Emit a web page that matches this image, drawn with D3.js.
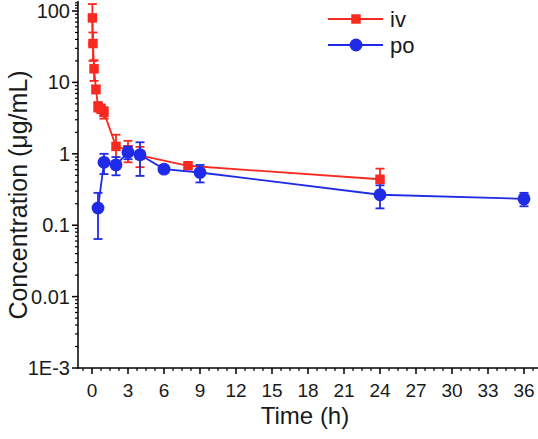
<!DOCTYPE html>
<html>
<head>
<meta charset="utf-8">
<script src="https://cdn.jsdelivr.net/npm/d3@7"></script>
<style>
  html, body { margin: 0; padding: 0; background: #fff; }
  svg { display: block; }
  text { font-family: Arial, "Liberation Sans", Helvetica, sans-serif; fill: #1a1a1a; }
</style>
</head>
<body>
<svg id="chart" width="538" height="439"></svg>
<script>
// ---- data ----
const ivTime  = [0.033, 0.083, 0.17, 0.33, 0.5, 0.75, 1, 2, 3, 4, 8, 24];
const ivConc  = [80, 35, 15.5, 8.0, 4.6, 4.3, 3.8, 1.27, 1.14, 0.95, 0.68, 0.44];
const ivSD    = [45, 15, 5, 1.0, 0.7, 0.6, 0.7, 0.58, 0.38, 0.30, 0.05, 0.18];

const poTime  = [0.5, 1, 2, 3, 4, 6, 9, 24, 36];
const poConc  = [0.174, 0.76, 0.70, 1.05, 0.97, 0.61, 0.547, 0.267, 0.234];
const poSD    = [0.11, 0.24, 0.20, 0.21, 0.48, 0.05, 0.15, 0.095, 0.05];

const xTickValues = [0, 3, 6, 9, 12, 15, 18, 21, 24, 27, 30, 33, 36];
const yTickValues = [0.001, 0.01, 0.1, 1, 10, 100];
const yTickLabels = ["1E-3", "0.01", "0.1", "1", "10", "100"];
const seriesNames = ["iv", "po"];

// ---- layout ----
const svg = d3.select("#chart");
const axisX0 = 78, axisY0 = 368;
const x = d3.scaleLinear().domain([0, 36]).range([92, 524]);
const y = d3.scaleLog().domain([0.001, 100]).range([368, 11]);
const RED = "#f82a20", BLUE = "#1f2be6";

// y axis
const yAxisG = svg.append("g");
yAxisG.append("line").attr("x1", axisX0).attr("x2", axisX0).attr("y1", 1).attr("y2", axisY0 + 0.5)
  .attr("stroke", "#000").attr("stroke-width", 1.5);
const minor = [];
for (let e = -3; e < 2; e++) for (let k = 2; k <= 9; k++) minor.push(k * Math.pow(10, e));
minor.push(110, 120, 130, 140);
yAxisG.selectAll("line.minor").data(minor.filter(v => y(v) > 1)).enter().append("line")
  .attr("x1", axisX0 - 3).attr("x2", axisX0).attr("y1", d => y(d)).attr("y2", d => y(d))
  .attr("stroke", "#000").attr("stroke-width", 1.2);
yAxisG.selectAll("line.major").data(yTickValues).enter().append("line")
  .attr("x1", axisX0 - 6).attr("x2", axisX0).attr("y1", d => y(d)).attr("y2", d => y(d))
  .attr("stroke", "#000").attr("stroke-width", 1.5);
yAxisG.selectAll("text").data(yTickValues).enter().append("text")
  .attr("x", axisX0 - 8).attr("y", d => y(d)).attr("dy", "0.35em")
  .attr("text-anchor", "end").attr("font-size", 20)
  .text((d, i) => yTickLabels[i]);

// x axis
const xAxisG = svg.append("g");
xAxisG.append("line").attr("x1", axisX0 - 0.75).attr("x2", 538).attr("y1", axisY0).attr("y2", axisY0)
  .attr("stroke", "#000").attr("stroke-width", 1.5);
const xMinor = d3.range(-0.75, 37.5, 0.75).filter(v => Math.abs(v / 3 - Math.round(v / 3)) > 1e-6);
xAxisG.selectAll("line.minor").data(xMinor.filter(v => x(v) > axisX0 + 2 && x(v) < 537)).enter().append("line")
  .attr("x1", d => x(d)).attr("x2", d => x(d)).attr("y1", axisY0).attr("y2", axisY0 + 3)
  .attr("stroke", "#000").attr("stroke-width", 1.2);
xAxisG.selectAll("line.major").data(xTickValues).enter().append("line")
  .attr("x1", d => x(d)).attr("x2", d => x(d)).attr("y1", axisY0).attr("y2", axisY0 + 6)
  .attr("stroke", "#000").attr("stroke-width", 1.5);
xAxisG.selectAll("text").data(xTickValues).enter().append("text")
  .attr("x", d => x(d)).attr("y", 397)
  .attr("text-anchor", "middle").attr("font-size", 19)
  .text(d => d);

// titles
svg.append("text").attr("x", 305).attr("y", 424).attr("text-anchor", "middle")
  .attr("font-size", 24).text("Time (h)");
svg.append("text").attr("transform", "translate(27,195) rotate(-90)").attr("text-anchor", "middle")
  .attr("font-size", 25).text("Concentration (\u03BCg/mL)");

// series
function drawSeries(times, conc, sd, color, shape, size) {
  const g = svg.append("g");
  const pts = times.map((t, i) => ({ t, c: conc[i], s: sd[i] }));
  g.append("path").datum(pts)
    .attr("d", d3.line().x(d => x(d.t)).y(d => y(d.c)))
    .attr("fill", "none").attr("stroke", color).attr("stroke-width", 1.8);
  const lo = d => y(Math.max(d.c - d.s, 0.0011));
  const hi = d => y(d.c + d.s);
  const eb = g.selectAll("g.eb").data(pts).enter().append("g");
  eb.append("line").attr("x1", d => x(d.t)).attr("x2", d => x(d.t))
    .attr("y1", hi).attr("y2", lo)
    .attr("stroke", color).attr("stroke-width", 1.8);
  eb.append("line").attr("x1", d => x(d.t) - 4.5).attr("x2", d => x(d.t) + 4.5)
    .attr("y1", hi).attr("y2", hi)
    .attr("stroke", color).attr("stroke-width", 1.8);
  eb.append("line").attr("x1", d => x(d.t) - 4.5).attr("x2", d => x(d.t) + 4.5)
    .attr("y1", lo).attr("y2", lo)
    .attr("stroke", color).attr("stroke-width", 1.8);
  const sym = d3.symbol().type(shape).size(size);
  g.selectAll("path.m").data(pts).enter().append("path")
    .attr("transform", d => `translate(${x(d.t)},${y(d.c)})`)
    .attr("d", sym).attr("fill", color);
}
drawSeries(ivTime, ivConc, ivSD, RED, d3.symbolSquare, 90);
drawSeries(poTime, poConc, poSD, BLUE, d3.symbolCircle, 130);

// legend
const legend = svg.append("g");
const legItems = [
  { name: seriesNames[0], color: RED, shape: d3.symbolSquare, size: 90, y: 19 },
  { name: seriesNames[1], color: BLUE, shape: d3.symbolCircle, size: 130, y: 45 }
];
legItems.forEach(it => {
  legend.append("line").attr("x1", 328).attr("x2", 383).attr("y1", it.y).attr("y2", it.y)
    .attr("stroke", it.color).attr("stroke-width", 1.8);
  legend.append("path").attr("transform", `translate(356,${it.y})`)
    .attr("d", d3.symbol().type(it.shape).size(it.size)).attr("fill", it.color);
  legend.append("text").attr("x", 390).attr("y", it.y).attr("dy", "0.35em")
    .attr("font-size", 22).text(it.name);
});
</script>
</body>
</html>
